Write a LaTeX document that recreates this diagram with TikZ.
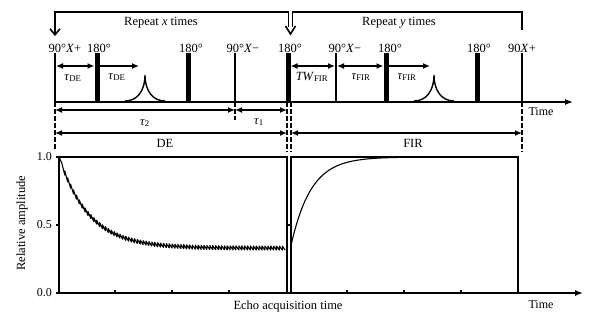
\documentclass[tikz,border=0pt]{standalone}
\usepackage{fontspec}
\setmainfont{Liberation Serif}
\usetikzlibrary{arrows.meta}
\newcommand\tauI{\textit{τ}}
\begin{document}
\begin{tikzpicture}[x=1pt,y=-1pt,
  lbl/.style={font=\fontsize{12.5}{14}\selectfont, inner sep=0pt, anchor=base},
  tick/.style={font=\fontsize{12}{14}\selectfont, inner sep=0pt, anchor=east},
  thinp/.style={line width=2.4pt},
  thickp/.style={line width=5pt},
  dimb/.style={line width=1.6pt, {Latex[length=7pt,width=6pt]}-{Latex[length=7pt,width=6pt]}},
  dimr/.style={line width=1.6pt, -{Latex[length=7pt,width=6pt]}},
  vdash/.style={line width=2pt, dash pattern=on 4.5pt off 2.5pt},
  brk/.style={line width=1.6pt},
  frame/.style={line width=1.1pt},
  axisarrow/.style={line width=1.4pt,-{Latex[length=8pt,width=6pt]}},
  echo/.style={line width=1.4pt},
  curve/.style={line width=1.1pt, line join=round}
]
\useasboundingbox (0,0) rectangle (613,322);

% ---------- pulse sequence ----------
\coordinate (b1) at (55,102);  \coordinate (t1) at (55,53);
\coordinate (b2) at (97,102);  \coordinate (t2) at (97,53);
\coordinate (b3) at (188,102); \coordinate (t3) at (188,53);
\coordinate (b4) at (235,102); \coordinate (t4) at (235,53);
\coordinate (b5) at (288,102); \coordinate (t5) at (288,53);
\coordinate (b6) at (336,102); \coordinate (t6) at (336,53);
\coordinate (b7) at (386,102); \coordinate (t7) at (386,53);
\coordinate (b8) at (477,102); \coordinate (t8) at (477,53);
\coordinate (b9) at (522,102); \coordinate (t9) at (522,53);
\coordinate (tend) at (573,102);

\draw[axisarrow] (b1) -- (tend);
\draw[thinp] (b1) -- (t1);
\draw[thickp] (b2) -- (t2);
\draw[thickp] (b3) -- (t3);
\draw[thinp] (b4) -- (t4);
\draw[thickp] (b5) -- (t5);
\draw[thinp] (b6) -- (t6);
\draw[thickp] (b7) -- (t7);
\draw[thickp] (b8) -- (t8);
\draw[thinp] (b9) -- (t9);

% echoes
\draw[echo] (125,101) .. controls (137,101) and (145,91) .. (145,75) .. controls (145,91) and (153,101) .. (165,101);
\draw[echo] (414,101) .. controls (426,101) and (434,91) .. (434,75) .. controls (434,91) and (442,101) .. (454,101);

% pulse labels
\node[lbl] (l1) at (65,52) {90°\textit{X}+};
\node[lbl] (l2) at (99,52) {180°};
\node[lbl] (l3) at (191,52) {180°};
\node[lbl] (l4) at (243,52) {90°\textit{X}−};
\node[lbl] (l5) at (290,52) {180°};
\node[lbl] (l6) at (345,52) {90°\textit{X}−};
\node[lbl] (l7) at (390,52) {180°};
\node[lbl] (l8) at (479,52) {180°};
\node[lbl] (l9) at (522,52) {90\textit{X}+};

% interval arrows
\coordinate (a1) at (56,66);   \coordinate (a2) at (94.5,66);
\coordinate (a3) at (99.5,66); \coordinate (a4) at (139,66);
\coordinate (a5) at (290.5,66);\coordinate (a6) at (335,66);
\coordinate (a7) at (337,66);  \coordinate (a8) at (383.5,66);
\coordinate (a9) at (388.5,66);\coordinate (a10) at (430,66);
\draw[dimb] (a1) -- (a2);
\draw[dimr] (a3) -- (a4);
\draw[dimb] (a5) -- (a6);
\draw[dimb] (a7) -- (a8);
\draw[dimr] (a9) -- (a10);
\node[lbl] (d1) at (73,80) {\tauI\textsubscript{DE}};
\node[lbl] (d2) at (117,79) {\tauI\textsubscript{DE}};
\node[lbl] (d3) at (312,80) {\textit{TW}\textsubscript{FIR}};
\node[lbl] (d4) at (361,79) {\tauI\textsubscript{FIR}};
\node[lbl] (d5) at (407,79) {\tauI\textsubscript{FIR}};

% tau2 / tau1
\coordinate (c1) at (55,110); \coordinate (c2) at (235,110); \coordinate (c3) at (287,110);
\coordinate (c4) at (235,120);
\draw[vdash] (b4) -- (c4);
\draw[dimb] (c1) -- (c2);
\draw[dimb] (c2) -- (c3);
\node[lbl] (tau2) at (145,125) {\tauI\textsubscript{2}};
\node[lbl] (tau1) at (259,124) {\tauI\textsubscript{1}};

% DE / FIR ranges
\coordinate (e1) at (55,133); \coordinate (e2) at (287,133);
\coordinate (f1) at (291,133); \coordinate (f2) at (522,133);
\draw[dimb] (e1) -- (e2);
\draw[dimb] (f1) -- (f2);
\node[lbl] (DE) at (165,147) {DE};
\node[lbl] (FIR) at (413,147) {FIR};

% dashed verticals
\draw[vdash] (54.5,102) -- (54.5,151);
\draw[vdash] (287.3,102) -- (287.3,152);
\draw[vdash] (291,102) -- (291,152);
\draw[vdash] (b9) -- (522,152);

% repeat brackets
\coordinate (r1) at (55,12); \coordinate (r2) at (288.5,12);
\coordinate (s1) at (292.5,12); \coordinate (s2) at (522,12);
\draw[brk, -{Straight Barb[length=6pt,width=10pt]}] (r2) -- (r1) -- (55,36);
\draw[brk] (288.5,27) -- (r2);
\draw[brk] (292.5,27) -- (s1) -- (s2) -- (522,30);
\draw[brk, line join=miter] (285.5,26) -- (290.5,34) -- (295.5,26);
\node[lbl] (rx) at (161,25) {Repeat \textit{x} times};
\node[lbl] (ry) at (399,25) {Repeat \textit{y} times};
\node[lbl, font=\fontsize{12}{14}\selectfont] (time1) at (541,115) {Time};

% ---------- plots ----------
\draw[frame] (59,157) rectangle (287,293);
\draw[frame] (291,157) rectangle (518,293);
\coordinate (ax0) at (59,293); \coordinate (ax1) at (583,293);
\draw[axisarrow] (ax0) -- (ax1);
\foreach \yy in {157,225,293} \draw[frame] (56,\yy) -- (59,\yy);
\draw[frame] (288,225) -- (291,225);
\foreach \xx in {115,172,229,347,404,461} \draw[frame] (\xx,293) -- (\xx,290);

\node[tick] (y10) at (52,157) {1.0};
\node[tick] (y05) at (52,225) {0.5};
\node[tick] (y00) at (52,293) {0.0};
\node[lbl, rotate=90, anchor=center] (ylab) at (22,223) {Relative amplitude};
\node[lbl] (xlab) at (288,309) {Echo acquisition time};
\node[lbl, font=\fontsize{12}{14}\selectfont] (time2) at (541,308) {Time};

% DE curve (sawtooth decay)
\draw[curve] (59,157) \foreach \i in {1,...,77} {
  -- ({59+\i*2.9},{293-136*(0.33+0.67*exp(-\i*2.9/30))-2})
  -- ({59+(\i+1)*2.9},{293-136*(0.33+0.67*exp(-(\i+1)*2.9/30))+2}) };

% FIR curve
\draw[curve] plot[domain=0:227, samples=120] ({291+\x},{293-136*(1-0.65*exp(-\x/20))});
\end{tikzpicture}
\end{document}
